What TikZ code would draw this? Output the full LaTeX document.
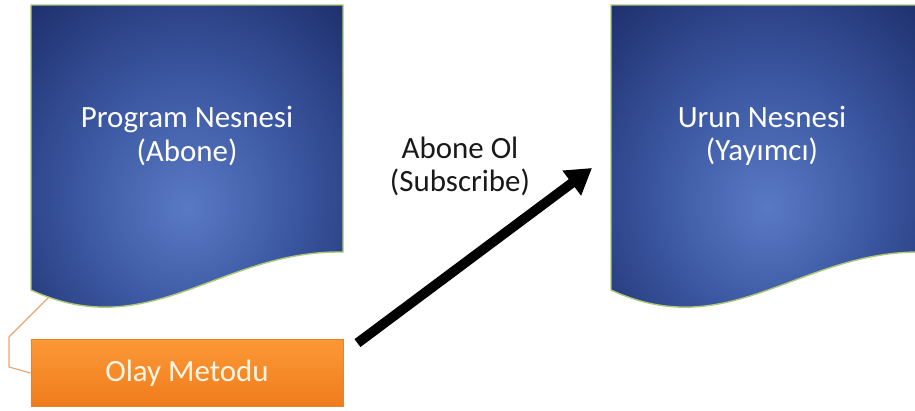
\documentclass[tikz,border=0pt]{standalone}
\usepackage{fontspec}
\setmainfont{Carlito}
\usetikzlibrary{arrows.meta}
\definecolor{docIn}{RGB}{90,121,196}
\definecolor{docMid}{RGB}{58,86,160}
\definecolor{docOut}{RGB}{28,44,104}
\definecolor{docLine}{RGB}{170,200,120}
\definecolor{olayTop}{RGB}{252,152,54}
\definecolor{olayBot}{RGB}{240,124,28}
\definecolor{olayLine}{RGB}{235,130,40}
\definecolor{olayText}{RGB}{255,246,230}
\definecolor{hookLine}{RGB}{232,165,115}
\pgfdeclareradialshading{docshade}{\pgfpoint{0bp}{-5bp}}{color(0bp)=(docIn); color(18bp)=(docMid); color(38bp)=(docOut); color(50bp)=(docOut)}
\newcommand{\docwave}{(31,5) -- (343,5) -- (343,252) .. controls (220,250) and (150,345) .. (31,290) -- cycle}
\begin{document}
\begin{tikzpicture}[x=0.025cm,y=-0.025cm,
  doc/.style={shading=docshade,draw=docLine,line width=1pt},
  doctext/.style={text=white,align=center,font=\fontsize{22}{23.5}\selectfont},
  olaybox/.style={top color=olayTop,bottom color=olayBot,draw=olayLine,line width=0.6pt,
    minimum width=7.8cm,minimum height=1.675cm,inner sep=0pt,text=olayText,
    font=\fontsize{22}{23.5}\selectfont},
  labeltext/.style={align=center,text=black!90,font=\fontsize{22}{23.5}\selectfont},
  hook/.style={draw=hookLine,line width=0.8pt},
  subarrow/.style={line width=7pt,-{Triangle[length=18pt,width=21pt]}}]
  \useasboundingbox (0,0) rectangle (915,410);
  % documents
  \shade[doc] \docwave;
  \begin{scope}[shift={(580,0)}]
    \shade[doc] \docwave;
  \end{scope}
  \node[doctext] (progText) at (187,136) {Program Nesnesi\\(Abone)};
  \node[doctext] (urunText) at (762,136) {Urun Nesnesi\\(Yayımcı)};
  % event method
  \node[olaybox] (olay) at (187,373) {Olay Metodu};
  \coordinate (hookPt) at (49,297);
  \draw[hook] (hookPt) -- (9,337) -- (9,367) -- (olay.west);
  % subscribe
  \coordinate (subTip) at (592,168);
  \draw[subarrow] ([shift={(14,4)}]olay.north east) -- (subTip);
  \node[labeltext] (subLabel) at (460,166) {Abone Ol\\(Subscribe)};
\end{tikzpicture}
\end{document}
